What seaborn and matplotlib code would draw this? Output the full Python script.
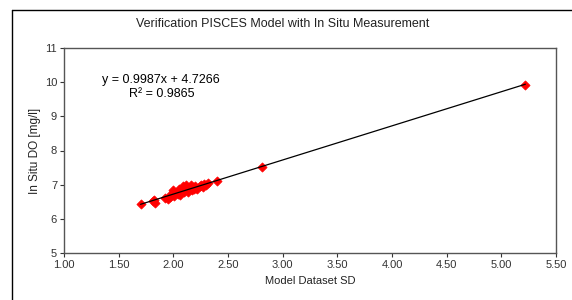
import matplotlib
matplotlib.use("Agg")
import matplotlib.pyplot as plt
import seaborn as sns
import numpy as np
import pandas as pd
from matplotlib.lines import Line2D

model_sd = [1.70, 1.81, 1.82, 1.83, 1.92, 1.95, 1.97, 1.98, 2.00, 2.01, 2.03, 2.04,
            2.05, 2.06, 2.08, 2.09, 2.10, 2.11, 2.12, 2.13, 2.15, 2.16, 2.17, 2.18,
            2.19, 2.20, 2.21, 2.22, 2.24, 2.25, 2.27, 2.28, 2.30, 2.32, 2.40, 2.81, 5.22]
insitu_do = [6.42, 6.52, 6.56, 6.47, 6.62, 6.58, 6.64, 6.72, 6.85, 6.68, 6.80, 6.74,
             6.88, 6.70, 6.82, 6.95, 6.78, 6.86, 6.98, 6.80, 6.90, 7.00, 6.84, 6.93,
             6.88, 6.97, 6.90, 6.86, 6.95, 7.00, 6.94, 7.02, 6.98, 7.04, 7.10, 7.52, 9.93]
fit_slope = 0.9987
fit_intercept = 4.7266
r_squared = 0.9865
x_ticks = [1.00, 1.50, 2.00, 2.50, 3.00, 3.50, 4.00, 4.50, 5.00, 5.50]
y_ticks = [5, 6, 7, 8, 9, 10, 11]

df = pd.DataFrame({"x": model_sd, "y": insitu_do})

sns.set_style("white")
plt.rcParams['font.family'] = ['Liberation Sans', 'DejaVu Sans']

fig = plt.figure(figsize=(5.72, 3.0), dpi=100)
ax = fig.add_axes([64/572, 1-253/300, (556-64)/572, (253-48)/300])

sns.scatterplot(data=df, x="x", y="y", marker="D", color="#ff0000",
                edgecolor="#ff0000", s=22, linewidth=0.5, ax=ax, zorder=2)

xs = np.array([min(model_sd), max(model_sd)])
sns.lineplot(x=xs, y=fit_slope * xs + fit_intercept, color="black", linewidth=0.9,
             ax=ax, zorder=3)

ax.set_xlim(1.0, 5.5)
ax.set_ylim(5, 11)
ax.set_xticks(x_ticks)
ax.set_xticklabels([f"{t:.2f}" for t in x_ticks])
ax.set_yticks(y_ticks)
ax.set_yticklabels([str(t) for t in y_ticks])
ax.tick_params(axis="both", direction="out", length=3, width=0.8, colors="#333333",
               labelsize=8, pad=2, bottom=True, left=True)
ax.tick_params(labelcolor="#333333")
for sp in ax.spines.values():
    sp.set_color("#555555")
    sp.set_linewidth(1.0)

ax.set_xlabel("Model Dataset SD", fontsize=8, color="#222222", labelpad=4)
ax.set_ylabel("In Situ DO [mg/l]", fontsize=8.5, color="#222222", labelpad=3)

ax.text(0.077, 0.844, f"y = {fit_slope:.4f}x + {fit_intercept:.4f}", transform=ax.transAxes,
        fontsize=9, color="black", ha="left", va="center")
ax.text(0.199, 0.775, f"R² = {r_squared:.4f}", transform=ax.transAxes,
        fontsize=9, color="black", ha="center", va="center")

fig.text(283/572, 1-24/300, "Verification PISCES Model with In Situ Measurement",
         fontsize=9, color="#222222", ha="center", va="center")

# outer chart-area frame (left and top edges visible)
fig.add_artist(Line2D([12/572, 12/572], [0, 1-10/300], transform=fig.transFigure,
                      color="black", linewidth=1.0))
fig.add_artist(Line2D([12/572, 1.0], [1-10/300, 1-10/300], transform=fig.transFigure,
                      color="black", linewidth=1.0))

fig.savefig("out.png", dpi=100)
